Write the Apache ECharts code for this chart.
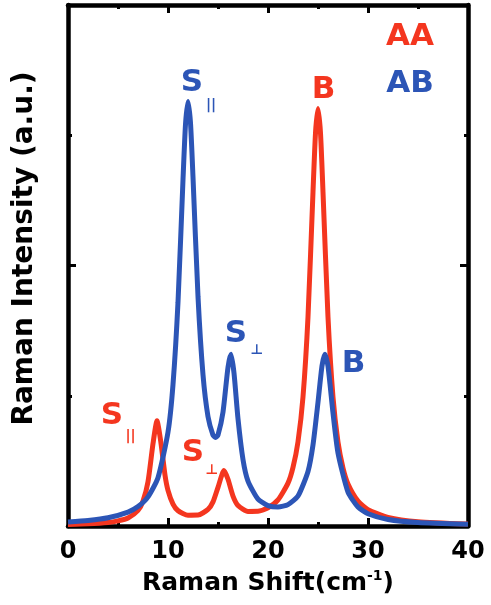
<!DOCTYPE html>
<html>
<head>
<meta charset="utf-8">
<script src="https://cdn.jsdelivr.net/npm/echarts@6/dist/echarts.min.js"></script>
<style>
html,body{margin:0;padding:0;background:#fff;}
#c{width:491px;height:605px;}
</style>
</head>
<body>
<div id="c"></div>
<script>
// Raman shift (cm^-1) sample positions and intensities
const abX = [0,2,4,6,7,8,9,10,10.5,11,11.5,11.75,12,12.25,12.5,13,13.5,14,14.5,14.75,15,15.5,16,16.3,16.6,17,17.5,18,19,20,21,22,23,24,24.5,25,25.4,25.7,26,26.5,27,28,29,30,32,35,40];
const abY = [0.030,0.042,0.063,0.107,0.149,0.224,0.371,0.720,1.086,1.718,2.659,3.084,3.260,3.094,2.679,1.762,1.161,0.840,0.698,0.680,0.699,0.874,1.219,1.318,1.174,0.823,0.510,0.345,0.206,0.157,0.146,0.164,0.230,0.419,0.623,0.950,1.230,1.318,1.227,0.868,0.561,0.260,0.146,0.094,0.050,0.027,0.014];
const aaX = [0,2,4,5,6,7,7.5,8,8.5,8.9,9.3,9.7,10,10.5,11,12,13,14,14.5,15,15.6,16,16.5,17,18,19,20,21,22,22.5,23,23.5,24,24.5,24.75,25,25.25,25.5,26,26.5,27,27.5,28,29,30,32,35,40];
const aaY = [0.012,0.017,0.027,0.039,0.061,0.120,0.191,0.340,0.632,0.808,0.635,0.391,0.274,0.168,0.118,0.083,0.084,0.127,0.185,0.297,0.426,0.359,0.230,0.158,0.112,0.113,0.140,0.200,0.329,0.450,0.647,0.991,1.606,2.565,3.017,3.205,3.016,2.564,1.604,0.988,0.644,0.445,0.323,0.191,0.125,0.066,0.033,0.015];
const xTicks = [0,10,20,30,40];
// annotation texts and their anchor positions in data units
const labelText = ['AA','AB','S','||','B','S','\u22A5','B','S','||','S','\u22A5'];
const labelX    = [34.2,34.2,12.4,14.3,25.55,16.8,18.9,28.55,4.4,6.25,12.5,14.4];
const labelY    = [3.758,3.397,3.401,3.232,3.347,1.474,1.351,1.244,0.845,0.691,0.560,0.430];
const labelSeries = ['AA','AB','AB','AB','AA','AB','AB','AB','AA','AA','AA','AA'];
const labelBig  = [true,true,true,false,true,true,false,true,true,false,true,false];

const RED = '#f4361f';
const BLUE = '#2c55b6';
const FONT = 'DejaVu Sans';

const chart = echarts.init(document.getElementById('c'), null, {renderer:'canvas'});

const annData = labelText.map((t,i)=>({
  value:[labelX[i],labelY[i]],
  itemStyle:{opacity:1},
  label:{
    show:true, position:'inside', align:'center', verticalAlign:'middle',
    formatter:t, opacity:1,
    color: labelSeries[i]==='AA'?RED:BLUE,
    fontFamily:FONT, fontWeight:'bold',
    fontSize: labelBig[i]?31:14
  }
}));

const axisCommon = {
  axisLine:{show:true, onZero:false, lineStyle:{color:'#000', width:4.5}},
  splitLine:{show:false}
};

chart.setOption({
  animation:false,
  backgroundColor:'#fff',
  grid:{left:68, right:23, top:5, bottom:79, containLabel:false},
  xAxis:[
    Object.assign({}, axisCommon, {
      type:'value', min:xTicks[0], max:xTicks[xTicks.length-1], interval:10, position:'bottom',
      axisTick:{show:true, inside:true, length:8, lineStyle:{color:'#000', width:3}},
      minorTick:{show:true, splitNumber:2, length:4, lineStyle:{color:'#000', width:3}},
      axisLabel:{show:true, margin:14, color:'#000', fontFamily:FONT, fontWeight:'bold', fontSize:24},
      name:'Raman Shift(cm{sup|-1})', nameLocation:'middle', nameGap:42,
      nameTextStyle:{color:'#000', fontFamily:FONT, fontWeight:'bold', fontSize:25,
        rich:{sup:{fontSize:14, fontFamily:FONT, fontWeight:'bold', color:'#000', verticalAlign:'top', lineHeight:30}}}
    }),
    Object.assign({}, axisCommon, {
      type:'value', min:0, max:40, interval:10, position:'top',
      axisTick:{show:true, inside:true, length:8, lineStyle:{color:'#000', width:3}},
      minorTick:{show:true, splitNumber:2, length:4, lineStyle:{color:'#000', width:3}},
      axisLabel:{show:false}
    })
  ],
  yAxis:[
    Object.assign({}, axisCommon, {
      type:'value', min:0, max:4, interval:2, position:'left',
      axisTick:{show:true, inside:true, length:8, lineStyle:{color:'#000', width:3}},
      minorTick:{show:true, splitNumber:2, length:4, lineStyle:{color:'#000', width:3}},
      axisLabel:{show:false},
      name:'Raman Intensity (a.u.)', nameLocation:'middle', nameGap:29,
      nameTextStyle:{color:'#000', fontFamily:FONT, fontWeight:'bold', fontSize:28, padding:[0,0,0,34]}
    }),
    Object.assign({}, axisCommon, {
      type:'value', min:0, max:4, interval:2, position:'right',
      axisTick:{show:true, inside:true, length:8, lineStyle:{color:'#000', width:3}},
      minorTick:{show:true, splitNumber:2, length:4, lineStyle:{color:'#000', width:3}},
      axisLabel:{show:false}
    })
  ],
  series:[
    {name:'AA', type:'line', xAxisIndex:0, yAxisIndex:0, data:aaX.map((x,i)=>[x,aaY[i]]),
     showSymbol:false, smooth:0.2, clip:false, lineStyle:{color:RED, width:5}, z:3},
    {name:'AB', type:'line', xAxisIndex:0, yAxisIndex:0, data:abX.map((x,i)=>[x,abY[i]]),
     showSymbol:false, smooth:0.2, clip:false, lineStyle:{color:BLUE, width:5}, z:4},
    {name:'labels', type:'scatter', xAxisIndex:0, yAxisIndex:0, symbolSize:0, data:annData, z:5, silent:true,
     itemStyle:{opacity:1}}
  ]
});
</script>
</body>
</html>
